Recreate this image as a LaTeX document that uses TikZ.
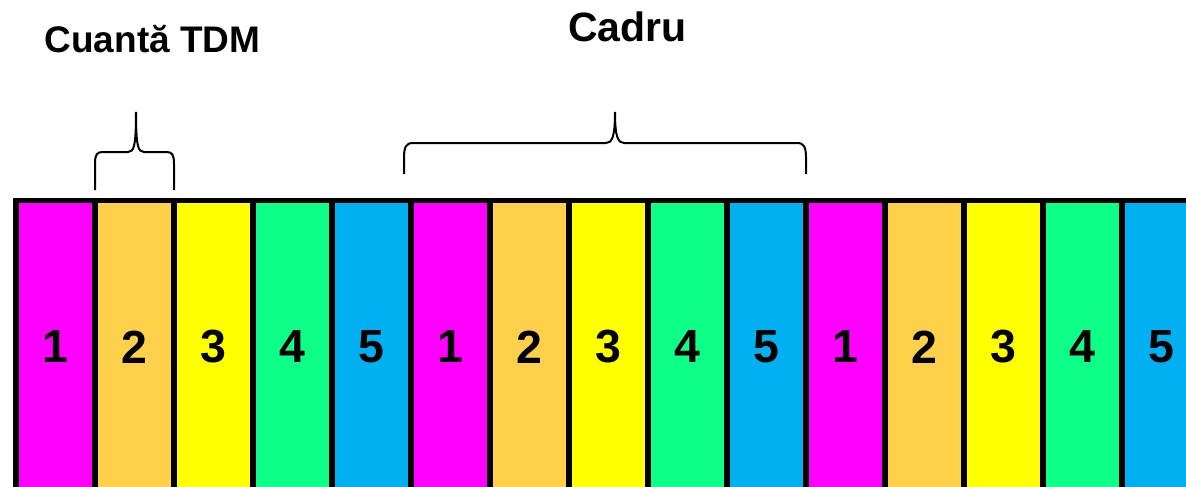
\documentclass[tikz,border=0pt]{standalone}
\usepackage{fontspec}
\setmainfont{Liberation Sans}
\definecolor{cmag}{HTML}{FF00FF}
\definecolor{corg}{HTML}{FFD04A}
\definecolor{cyel}{HTML}{FFFF00}
\definecolor{cgrn}{HTML}{0DFF88}
\definecolor{cblu}{HTML}{00B0F0}
\tikzset{
  cell/.style={draw=black, line width=5.5pt, minimum width=79pt, minimum height=293pt, inner sep=0pt, outer sep=0pt, anchor=center},
  num/.style={font=\bfseries\fontsize{46.5}{50}\selectfont, inner sep=0pt},
  title/.style={font=\bfseries\fontsize{37}{42}\selectfont, inner sep=0pt, anchor=base},
  bigtitle/.style={font=\bfseries\fontsize{41}{44}\selectfont, inner sep=0pt, anchor=base},
  bracestyle/.style={draw=black, line width=2pt}
}
\begin{document}
\begin{tikzpicture}[x=1pt,y=-1pt]
\useasboundingbox (0,0) rectangle (1186,487);
\clip (0,0) rectangle (1186,487);
\foreach \k/\c/\t in {0/cmag/1,1/corg/2,2/cyel/3,3/cgrn/4,4/cblu/5,5/cmag/1,6/corg/2,7/cyel/3,8/cgrn/4,9/cblu/5,10/cmag/1,11/corg/2,12/cyel/3,13/cgrn/4,14/cblu/5}{
  \node[cell, fill=\c] (c\k) at ({55.5+79*\k},347) {};
  \node[num] (n\k) at (c\k.center) {\t};
}
% braces
\draw[bracestyle] (95,190) -- (95,164) .. controls (95,154) and (97,152) .. (103,152) -- (128,152) .. controls (134,152) and (136,146) .. (136,112) .. controls (136,146) and (138,152) .. (144,152) -- (166,152) .. controls (172,152) and (174,154) .. (174,164) -- (174,190);
\draw[bracestyle] (404,174) -- (404,158) .. controls (404,147) and (406,143) .. (413,143) -- (606,143) .. controls (612,143) and (615,137) .. (615,112) .. controls (615,137) and (618,143) .. (624,143) -- (797,143) .. controls (804,143) and (806,147) .. (806,158) -- (806,174);
\node[title] (t1) at (152.5,53) {Cuantă TDM};
\node[bigtitle] (t2) at (627.5,42) {Cadru};
\end{tikzpicture}
\end{document}
